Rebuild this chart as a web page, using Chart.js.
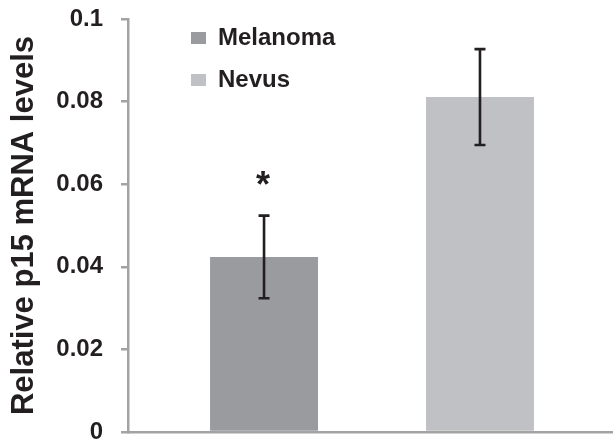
<!DOCTYPE html>
<html>
<head>
<meta charset="utf-8">
<script src="https://cdn.jsdelivr.net/npm/chart.js@4"></script>
<style>
    html, body { margin: 0; padding: 0; background: #fff; }
    #wrap { width: 613px; height: 443px; }
</style>
</head>
<body>
<div id="wrap"><canvas id="chart" width="613" height="443"></canvas></div>
<script>
const groups = ['Melanoma', 'Nevus'];
const meanLevels = [0.0424, 0.0811];
const errLevels = [0.0100, 0.0116];
const markers = ['*', ''];
const yTicks = [0, 0.02, 0.04, 0.06, 0.08, 0.1];

const barColors = ['#9a9b9f', '#c0c1c5'];
const ink = '#231f20';
const axisGray = '#a3a3a3';
const fontFamily = "'Liberation Sans', Arial, sans-serif";

// error bars + significance star
const errorBars = {
    id: 'errorBars',
    afterDatasetsDraw(chart) {
        const ctx = chart.ctx;
        const y = chart.scales.y;
        ctx.save();
        chart.data.datasets.forEach((ds, i) => {
            const bar = chart.getDatasetMeta(i).data[0];
            if (!bar) return;
            const top = y.getPixelForValue(meanLevels[i] + errLevels[i]);
            const bot = y.getPixelForValue(meanLevels[i] - errLevels[i]);
            ctx.strokeStyle = ink;
            ctx.lineWidth = 2.6;
            ctx.beginPath();
            ctx.moveTo(bar.x, top); ctx.lineTo(bar.x, bot);
            ctx.moveTo(bar.x - 5.5, top); ctx.lineTo(bar.x + 5.5, top);
            ctx.moveTo(bar.x - 5.5, bot); ctx.lineTo(bar.x + 5.5, bot);
            ctx.stroke();

            if (markers[i]) {
                ctx.fillStyle = ink;
                ctx.font = 'bold 36px ' + fontFamily;
                ctx.textAlign = 'center';
                ctx.textBaseline = 'alphabetic';
                const m = ctx.measureText(markers[i]);
                const mid = (m.actualBoundingBoxAscent - m.actualBoundingBoxDescent) / 2;
                ctx.fillText(markers[i], bar.x - 1, top - 38 + mid);
            }
        });
        ctx.restore();
    }
};

// move the legend into the upper left of the plot
const legendSpot = {
    id: 'legendSpot',
    afterLayout(chart) {
        const lg = chart.legend;
        if (!lg) return;
        lg.left = 173;
        lg.top = 8;
        lg.right = lg.left + 260;
        lg.bottom = lg.top + 130;
        lg.width = 260;
        lg.height = 130;
    }
};

new Chart(document.getElementById('chart'), {
    type: 'bar',
    data: {
        datasets: groups.map((g, i) => ({
            label: g,
            data: [{ x: i, y: meanLevels[i] }],
            backgroundColor: barColors[i],
            borderWidth: 0
        }))
    },
    options: {
        responsive: false,
        animation: false,
        layout: { padding: { top: 19, bottom: 11, left: 0, right: 0 } },
        datasets: {
            bar: { grouped: false, barPercentage: 1, categoryPercentage: 0.5 }
        },
        scales: {
            x: {
                type: 'linear',
                bounds: 'data',
                offset: false,
                min: -0.63,
                max: 1.616,
                afterBuildTicks(scale) {
                    scale.ticks = groups.map((g, i) => ({ value: i }));
                },
                ticks: { display: false },
                grid: { display: false, drawTicks: false },
                border: { display: true, color: axisGray, width: 2.5 }
            },
            y: {
                min: 0,
                max: 0.1,
                afterBuildTicks(scale) {
                    scale.ticks = yTicks.map(v => ({ value: v }));
                },
                afterFit(scale) {
                    scale.width = 128;
                    scale.paddingTop = 0;
                    scale.paddingBottom = 0;
                },
                ticks: {
                    padding: 18,
                    color: ink,
                    font: { family: fontFamily, size: 24, weight: 'bold' },
                    callback: v => String(v)
                },
                grid: {
                    drawOnChartArea: false,
                    drawTicks: true,
                    tickLength: 7,
                    color: axisGray,
                    lineWidth: 2.5
                },
                border: { display: true, color: axisGray, width: 2.5 },
                title: {
                    display: true,
                    text: 'Relative p15 mRNA levels',
                    color: ink,
                    font: { family: fontFamily, size: 31, weight: 'bold' },
                    padding: { top: 6, bottom: 0 }
                }
            }
        },
        plugins: {
            legend: {
                position: 'chartArea',
                align: 'start',
                labels: {
                    boxWidth: 15,
                    boxHeight: 12,
                    padding: 18,
                    color: ink,
                    font: { family: fontFamily, size: 24, weight: 'bold' }
                }
            },
            tooltip: { enabled: false }
        }
    },
    plugins: [errorBars, legendSpot]
});
</script>
</body>
</html>
